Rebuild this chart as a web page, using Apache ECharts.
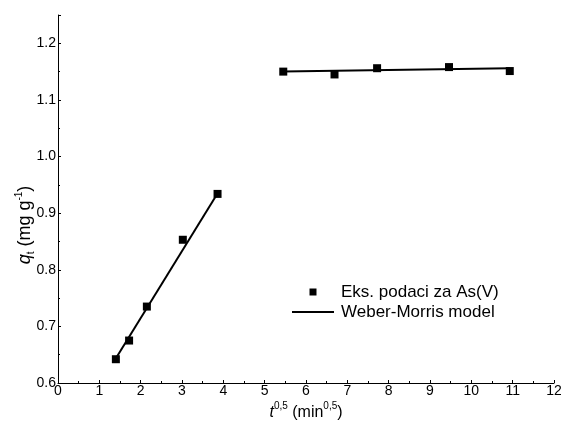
<!DOCTYPE html>
<html>
<head>
<meta charset="utf-8">
<script src="https://cdn.jsdelivr.net/npm/echarts@6/dist/echarts.min.js"></script>
<style>html,body{margin:0;padding:0;background:#fff}#c{width:561px;height:424px}</style>
</head>
<body>
<div id="c"></div>
<script>
// Experimental data: t^0.5 (min^0.5) and q_t (mg/g)
var expX = [1.40, 1.72, 2.15, 3.02, 3.86, 5.45, 6.69, 7.72, 9.46, 10.93];
var expY = [0.642, 0.675, 0.735, 0.853, 0.934, 1.150, 1.145, 1.156, 1.158, 1.151];
// Weber-Morris model segments (endpoints)
var fit1X = [1.42, 3.87];
var fit1Y = [0.646, 0.936];
var fit2X = [5.45, 10.93];
var fit2Y = [1.150, 1.156];
var xTicks = [0,1,2,3,4,5,6,7,8,9,10,11,12];
var yTicks = [0.6,0.7,0.8,0.9,1.0,1.1,1.2];
var seriesNames = ['Eks. podaci za As(V)', 'Weber-Morris model'];

function pairs(xs, ys){ return xs.map(function(x,i){ return [x, ys[i]]; }); }

var font = 'Liberation Sans, Arial, sans-serif';
var chart = echarts.init(document.getElementById('c'), null, {renderer:'canvas'});
chart.setOption({
  animation: false,
  backgroundColor: '#fff',
  textStyle: {fontFamily: font},
  grid: {left: 58, right: 7, top: 15, bottom: 41, containLabel: false, outerBoundsMode: 'none'},
  legend: {
    orient: 'vertical', left: 292, top: 282, padding: 0,
    itemWidth: 42, itemHeight: 14, itemGap: 0,
    textStyle: {fontFamily: font, fontSize: 17, lineHeight: 20, color: '#000', padding: [0, 0, 0, 2]},
    data: [
      {name: seriesNames[0], icon: 'path://M0,0M14,14M3.5,3.5L10.5,3.5L10.5,10.5L3.5,10.5Z', itemStyle: {color:'#000', opacity: 1}},
      {name: seriesNames[1], icon: 'path://M0,6L42,6L42,8L0,8Z', itemStyle: {color:'#000'}, lineStyle: {width: 0}}
    ]
  },
  xAxis: {
    type: 'value', min: xTicks[0], max: xTicks[xTicks.length-1], interval: 1,
    name: '{i|t}{sup|0,5}{n| (min}{sup|0,5}{n|)}',
    nameLocation: 'middle', nameGap: 18, nameMoveOverlap: false,
    nameTextStyle: {
      rich: {
        i: {fontStyle: 'italic', fontSize: 16, fontFamily: font, color:'#000', verticalAlign:'bottom', lineHeight: 20},
        n: {fontSize: 16, fontFamily: font, color:'#000', verticalAlign:'bottom', lineHeight: 20},
        sup: {fontSize: 10, fontFamily: font, color:'#000', verticalAlign:'top', lineHeight: 20}
      }
    },
    axisLine: {onZero: false, lineStyle: {color: '#000', width: 1}},
    axisTick: {inside: true, length: 3, lineStyle: {color:'#000'}},
    minorTick: {show: true, splitNumber: 2, length: 2, lineStyle: {color:'#000'}},
    axisLabel: {fontSize: 14, color: '#000', margin: 1, fontFamily: font},
    splitLine: {show: false}
  },
  yAxis: {
    type: 'value', min: yTicks[0], max: 1.25, interval: 0.1,
    name: '{i|q}{sub|t}{n| (mg g}{sup|-1}{n|)}',
    nameLocation: 'middle', nameGap: 22, nameMoveOverlap: false,
    nameTextStyle: {
      padding: [0, 52, 0, 0],
      rich: {
        i: {fontStyle: 'italic', fontSize: 18, fontFamily: font, color:'#000', verticalAlign:'middle', lineHeight: 22},
        n: {fontSize: 18, fontFamily: font, color:'#000', verticalAlign:'middle', lineHeight: 22},
        sub: {fontSize: 10, fontFamily: font, color:'#000', verticalAlign:'bottom', lineHeight: 22},
        sup: {fontSize: 10, fontFamily: font, color:'#000', verticalAlign:'top', lineHeight: 22}
      }
    },
    axisLine: {show: true, onZero: false, lineStyle: {color: '#000', width: 1}},
    axisTick: {show: true, inside: true, length: 3, lineStyle: {color:'#000'}},
    minorTick: {show: true, splitNumber: 2, length: 2, lineStyle: {color:'#000'}},
    axisLabel: {fontSize: 14, color: '#000', margin: 2, fontFamily: font, showMaxLabel: false,
      formatter: function(v){ return v.toFixed(1); }},
    splitLine: {show: false}
  },
  series: [
    {name: seriesNames[1], type: 'line', data: pairs(fit1X, fit1Y), showSymbol: false, symbol: 'none',
     lineStyle: {color: '#000', width: 2}, itemStyle: {color: '#000'}, z: 2},
    {name: seriesNames[1], type: 'line', data: pairs(fit2X, fit2Y), showSymbol: false, symbol: 'none',
     lineStyle: {color: '#000', width: 2}, itemStyle: {color: '#000'}, z: 2},
    {name: seriesNames[0], type: 'scatter', data: pairs(expX, expY), symbol: 'rect', symbolSize: 8,
     itemStyle: {color: '#000', opacity: 1}, z: 3}
  ]
});
</script>
</body>
</html>
